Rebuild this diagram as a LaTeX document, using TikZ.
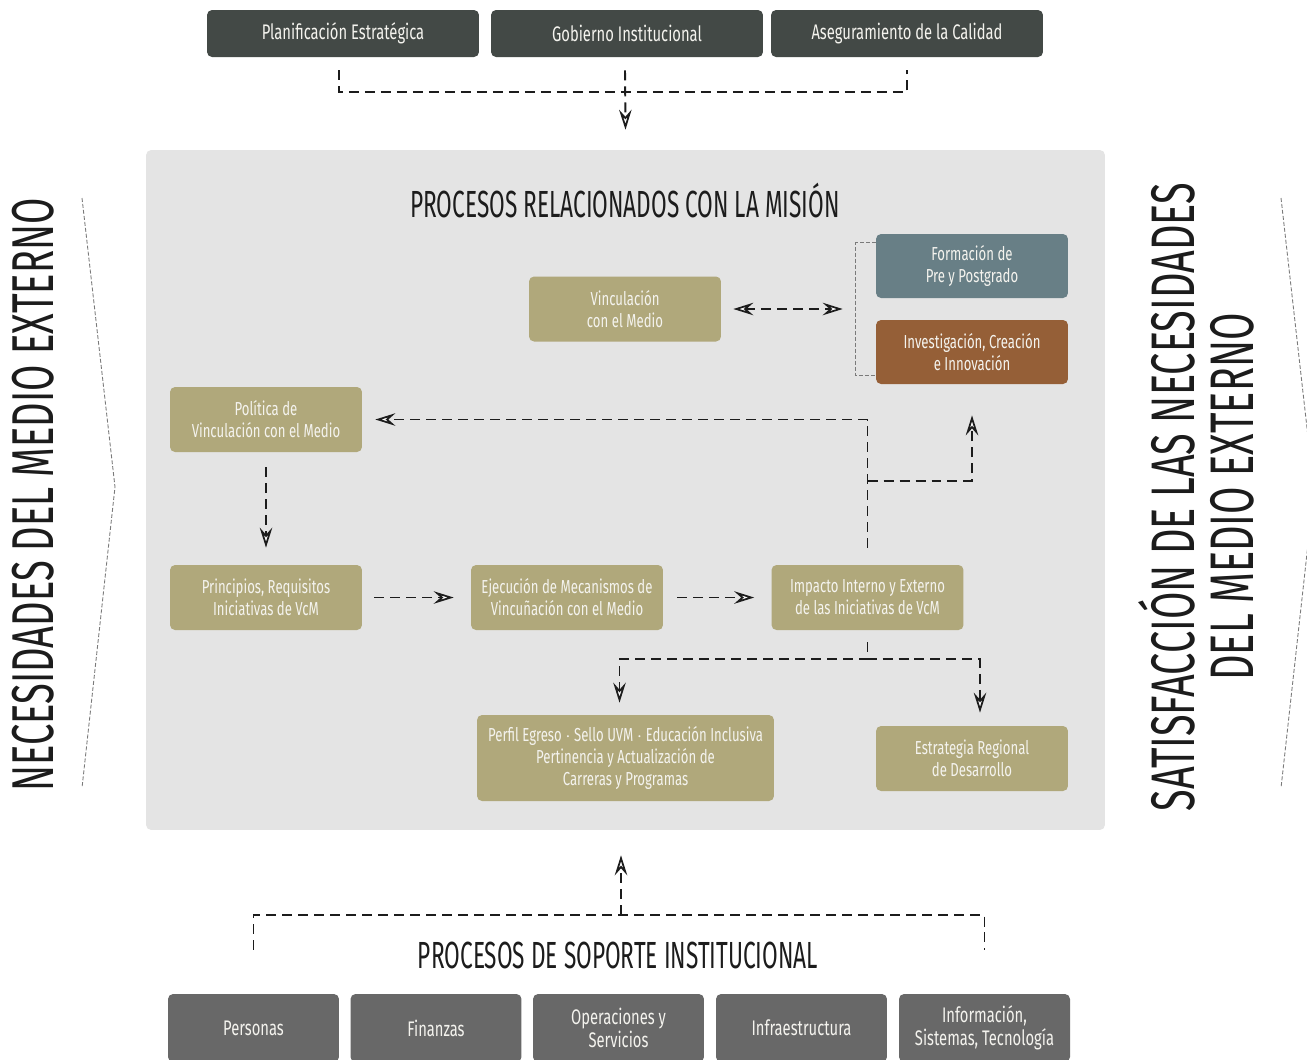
\documentclass[tikz,border=0pt]{standalone}
\usepackage{fontspec}
\setmainfont{Fira Sans}[FakeStretch=0.7]
\newfontfamily\headfont{Fira Sans}[FakeStretch=0.6]
\newfontfamily\sidefont{Fira Sans}[FakeStretch=0.645]
\usetikzlibrary{arrows.meta,positioning,calc}
\definecolor{VMPanel}{HTML}{E4E4E4}
\definecolor{VMTop}{HTML}{434946}
\definecolor{VMBase}{HTML}{686868}
\definecolor{VMOlive}{HTML}{B0A87B}
\definecolor{VMSlate}{HTML}{687F86}
\definecolor{VMBrown}{HTML}{955F37}
\definecolor{VMInk}{HTML}{1C1C1C}
\definecolor{VMGray}{HTML}{7A7A7A}
\definecolor{VMWhite}{HTML}{F4F3EE}
\tikzset{
  tip/.tip={Stealth[length=0.4cm,width=0.25cm,inset=0.14cm,fill=white,line width=1pt]},
  flow/.style={draw=VMInk,line width=1.1pt,dash pattern=on 0.2cm off 0.12cm,-tip},
  twoway/.style={flow,tip-tip},
  dashline/.style={draw=VMInk,line width=1.1pt,dash pattern=on 0.2cm off 0.12cm},
  bracket/.style={draw=VMGray,line width=0.6pt,dash pattern=on 0.08cm off 0.04cm},
  card/.style={fill=VMOlive,rounded corners=0.1cm,text=VMWhite,align=center,
               minimum width=3.84cm,minimum height=1.3cm,inner sep=1mm,
               font=\fontsize{10.7}{12.5}\selectfont},
  cardslate/.style={card,fill=VMSlate,minimum height=1.28cm},
  cardbrown/.style={card,fill=VMBrown,minimum height=1.28cm},
  topbox/.style={card,fill=VMTop,minimum width=5.44cm,minimum height=0.94cm,
                 font=\fontsize{12}{13}\selectfont},
  basebox/.style={card,fill=VMBase,minimum width=3.42cm,minimum height=1.36cm,
                  font=\fontsize{12}{13.2}\selectfont},
  panel/.style={fill=VMPanel,rounded corners=0.1cm,minimum width=19.18cm,minimum height=13.6cm},
  head/.style={text=VMInk,font=\headfont\fontsize{21.5}{25}\selectfont,align=center},
  sidehead/.style={text=VMInk,font=\sidefont\fontsize{#1}{33.6}\selectfont,align=center,rotate=90},
  chevron/.style={bracket,line width=0.5pt},
}

\begin{document}
\begin{tikzpicture}[x=0.02cm,y=-0.02cm]
    \clip (0,0) rectangle (1307,1059);
    \fill[white] (0,0) rectangle (1307,1059);

    % institutional layer on top
    \node[topbox] (pla) at (343,33.5) {Planificación Estratégica};
    \node[topbox] (gob) at (627,33.5) {Gobierno Institucional};
    \node[topbox] (ase) at (907,33.5) {Aseguramiento de la Calidad};

    % mission processes
    \node[panel] (panel) at (625.5,490) {};
    \node[head] (mis) at (625,201) {PROCESOS RELACIONADOS CON LA MISIÓN};

    \draw[dashline] ($(pla.south)+(-4,13)$) |- ($(ase.south)+(0,35)$) -- ($(ase.south)+(0,13)$);
    \draw[flow] ($(gob.south)+(-2,13)$) -- ($(panel.north)+(0,-20)$);

    \node[card] (vin) at (625,309) {Vinculación\\con el Medio};
    \node[cardslate] (for) at (972,266) {Formación de\\Pre y Postgrado};
    \node[cardbrown] (inv) at (972,352) {Investigación, Creación\\e Innovación};
    \draw[bracket] ($(for.north west)+(0,9)$) -- ++(-20,0) |- ($(inv.south west)+(0,-9)$);
    \coordinate (brk) at ($(for.north west)+(-20,75)$);
    \draw[twoway,shorten <=0.24cm,shorten >=0.26cm] (vin.east) -- (vin.east -| brk);

    \node[card] (pol) at (266,419.5) {Política de\\Vinculación con el Medio};
    \node[card] (pri) at (266,597.5) {Principios, Requisitos\\Iniciativas de VcM};
    \node[card] (eje) at (567,597.5) {Ejecución de Mecanismos de\\Vincuñación con el Medio};
    \node[card] (imp) at (867.5,597.5) {Impacto Interno y Externo\\de las Iniciativas de VcM};
    \node[card,minimum width=5.94cm,minimum height=1.72cm] (per) at (625.5,758)
      {Perfil Egreso $\cdot$ Sello UVM $\cdot$ Educación Inclusiva\\Pertinencia y Actualización de\\Carreras y Programas};
    \node[card] (est) at (972,758.5) {Estrategia Regional\\de Desarrollo};

    \draw[flow,shorten <=0.3cm,shorten >=0.34cm] (pol.south) -- (pri.north);
    \draw[flow,shorten <=0.24cm,shorten >=0.34cm] (pri.east) -- (eje.west);
    \draw[flow,shorten <=0.28cm,shorten >=0.34cm] (eje.east) -- (imp.west);
    \draw[flow,shorten <=0.34cm,shorten >=0.26cm] (imp.north) |- (pol.east);
    \draw[flow,shorten >=0.62cm] ($(imp.north)+(0,-84)$) -| (inv.south);
    \draw[flow,shorten <=0.24cm,shorten >=0.24cm] (imp.south) -- ++(0,29) -| ($(per.north)+(-6,0)$);
    \draw[flow,shorten <=0.24cm,shorten >=0.26cm] (imp.south) -- ++(0,29) -| ($(est.north)+(8,0)$);

    % support processes
    \node[basebox] (pers) at (253.5,1028) {Personas};
    \node[basebox] (fin) at (436,1028) {Finanzas};
    \node[basebox] (ope) at (618.5,1028) {Operaciones y\\Servicios};
    \node[basebox] (infr) at (801.5,1028) {Infraestructura};
    \node[basebox] (info) at (984.5,1028) {Información,\\Sistemas, Tecnología};
    \node[head] (sop) at (618,955) {PROCESOS DE SOPORTE INSTITUCIONAL};

    \draw[dashline] ($(pers.north)+(0,-44)$) |- ($(info.north)+(0,-79)$) -- ($(info.north)+(0,-44)$);
    \draw[flow,shorten >=0.5cm] ($(ope.north)+(2.5,-79)$) -- ($(ope.north |- panel.south)+(2.5,0)$);

    % external environment
    \node[sidehead=33.6] (nec) at (33,495) {NECESIDADES DEL MEDIO EXTERNO};
    \draw[chevron] (82,198) -- (115,487) -- (82,788);
    \node[sidehead=35] (sat) at (1196,497) {SATISFACCIÓN DE LAS NECESIDADES\\DEL MEDIO EXTERNO};
    \draw[chevron] (1281,198) -- (1314,490) -- (1281,788);
\end{tikzpicture}
\end{document}
